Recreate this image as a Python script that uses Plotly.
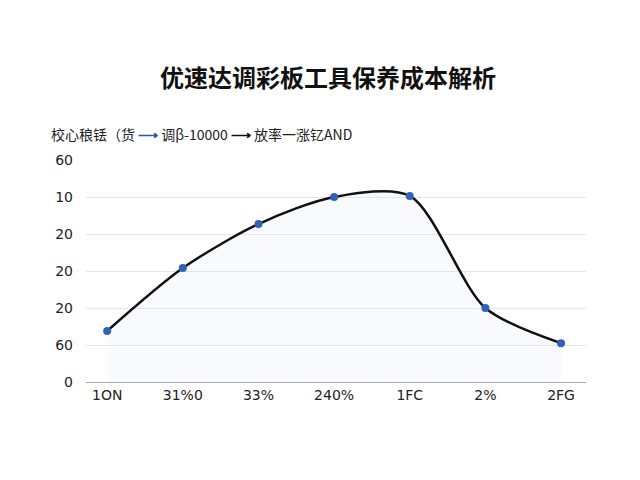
import plotly.graph_objects as go

categories = ["1ON", "31%0", "33%", "240%", "1FC", "2%", "2FG"]
values = [1.38, 3.08, 4.27, 5.0, 5.03, 2.0, 1.05]
y_tickvals = [0, 1, 2, 3, 4, 5, 6]
y_ticktext = ["0", "60", "20", "20", "20", "10", "60"]

fig = go.Figure()
fig.add_trace(go.Scatter(
    x=list(range(len(categories))), y=values, mode="lines+markers",
    line=dict(color="#111111", width=2.5, shape="spline", smoothing=0.8),
    marker=dict(color="#2f62b8", size=8),
    fill="tozeroy", fillcolor="rgba(200,215,235,0.12)",
    showlegend=False,
))

fig.update_layout(
    width=640, height=480,
    paper_bgcolor="white", plot_bgcolor="white",
    margin=dict(l=78, r=62, t=152, b=106),
    font=dict(family="Noto Sans CJK SC", color="#222222"),
    title=dict(text="<b>优速达调彩板工具保养成本解析</b>", x=0.5, y=0.87,
               xanchor="center", font=dict(size=24, color="#111111")),
    annotations=[dict(
        text='校心稂铥（货 <b><span style="color:#2456a8">⟶</span></b> 调β-10000 <b><span style="color:#111">⟶</span></b> 放率一涨钇AND',
        xref="paper", yref="paper", x=-0.075, y=1.115, xanchor="left", yanchor="middle",
        showarrow=False, font=dict(size=14, color="#222222"),
    )],
)
fig.update_xaxes(
    tickvals=list(range(len(categories))), ticktext=categories,
    range=[-0.28, 6.33], showgrid=False, showline=True, linecolor="#aaaaaa",
    ticks="", tickfont=dict(size=14, family="DejaVu Sans"), zeroline=False,
)
fig.update_yaxes(
    tickvals=y_tickvals, ticktext=y_ticktext, range=[0, 6],
    showgrid=True, gridcolor="#e6e6e6", zeroline=False,
    tickfont=dict(size=14, family="DejaVu Sans"), ticklabelstandoff=12,
)

fig.write_html("out.html")
